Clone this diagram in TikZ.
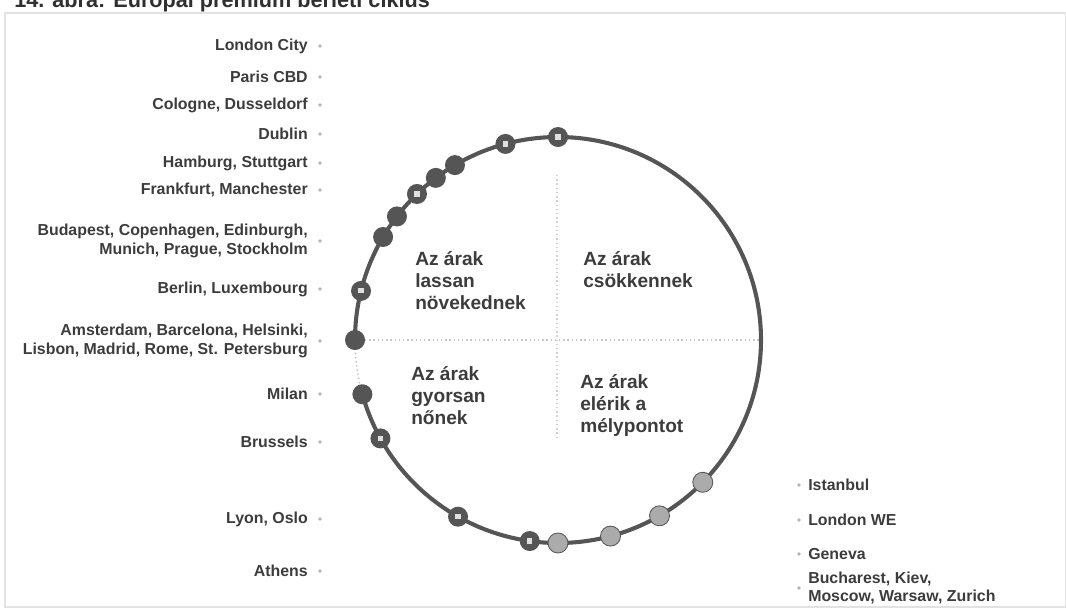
\documentclass[tikz,border=0pt]{standalone}
\usepackage{fontspec}
\setmainfont{Liberation Sans}
\usetikzlibrary{positioning}
\definecolor{ringgray}{HTML}{555555}
\definecolor{labelgray}{HTML}{3C3C3C}
\definecolor{hellgray}{HTML}{ABABAB}
\definecolor{rahmen}{HTML}{E2E2E2}

\begin{document}
\begin{tikzpicture}[x=0.025cm, y=-0.025cm, % 1 Einheit = 1 Pixel, y nach unten
  ort/.style={font=\bfseries\fontsize{11.3}{13.2}\selectfont, text=labelgray, align=right, inner sep=0pt},
  ortr/.style={font=\bfseries\fontsize{11.3}{13.2}\selectfont, text=labelgray, align=left, inner sep=0pt, anchor=west},
  phase/.style={font=\bfseries\fontsize{13.6}{15.6}\selectfont, text=labelgray, align=left, inner sep=0pt, anchor=north west},
  zeichen/.style={circle, fill=gray!60, inner sep=0pt, minimum size=0.09cm},
  punkt/.style={circle, fill=ringgray, inner sep=0pt, minimum size=0.5cm},
  punkthell/.style={circle, fill=hellgray, draw=ringgray, line width=0.6pt, inner sep=0pt, minimum size=0.5cm},
  innensq/.style={rectangle, fill=gray!25, inner sep=0pt, minimum size=0.13cm},
  ring/.style={draw=ringgray, line width=2.9pt}]

\clip (0,0) rectangle (1066,613);

% Rahmen und Titel (oben abgeschnitten)
\draw[rahmen, line width=0.8pt] (5,13) rectangle (1066,607);
\node[anchor=base west, font=\bfseries\fontsize{15.4}{17}\selectfont, text=labelgray!80!black, inner sep=0pt] (titel) at (14,7) {14. ábra: Európai prémium bérleti ciklus};

\coordinate (c) at (558,340);

% Quadranten
\draw[gray!45, dotted, line width=1pt] (365,340) -- (765,340);
\draw[gray!35, dotted, line width=1pt] (557,175) -- (557,440);

\node[phase] (q1) at (415,251) {Az árak\\lassan\\növekednek};
\node[phase] (q2) at (583,251) {Az árak\\csökkennek};
\node[phase] (q3) at (411,366) {Az árak\\gyorsan\\nőnek};
\node[phase] (q4) at (580,374) {Az árak\\elérik a\\mélypontot};

% Ring (Lücke zwischen Amsterdam und Milan)
\draw[ring] (c) ++(180:203) arc[start angle=180, end angle=525, radius=203];
\draw[gray!50, dotted, line width=1pt] ([shift={(180:203)}]c) arc[start angle=180, end angle=165, radius=203];

% Städte links: Name/Winkel/y/Quadrat
\foreach \name/\w/\y/\sq [count=\i] in {London City/270/46/1, Paris CBD/255/77/1, {Cologne, Dusseldorf}/239.5/105/0,
    Dublin/233/134/0, {Hamburg, Stuttgart}/226/163/1, {Frankfurt, Manchester}/217.5/190/0,
    {Budapest, Copenhagen, Edinburgh,\\Munich, Prague, Stockholm}/210.5/241/0, {Berlin, Luxembourg}/194/289/1,
    {Amsterdam, Barcelona, Helsinki,\\Lisbon, Madrid, Rome, St. Petersburg}/180/341/0, Milan/164.5/394/0,
    Brussels/151/442/1, {Lyon, Oslo}/119.5/519/1, Athens/98/571/1} {
  \node[punkt] (pl\i) at ([shift={(\w:203)}]c) {};
  \ifnum\sq=1 \node[innensq] at (pl\i) {}; \fi
  \node[zeichen] (zl\i) at (320,\y) {};
  \node[ort, anchor=east] (nl\i) at (308,\y) {\name};
}

% Städte rechts
\foreach \name/\w/\y [count=\i] in {Istanbul/44.5/485, London WE/60/520, Geneva/75/554,
    {Bucharest, Kiev,\\Moscow, Warsaw, Zurich}/90/588} {
  \node[punkthell] (pr\i) at ([shift={(\w:203)}]c) {};
  \node[zeichen] (zr\i) at (799,\y) {};
  \node[ortr] (nr\i) at (808,\y) {\name};
}

\end{tikzpicture}
\end{document}
